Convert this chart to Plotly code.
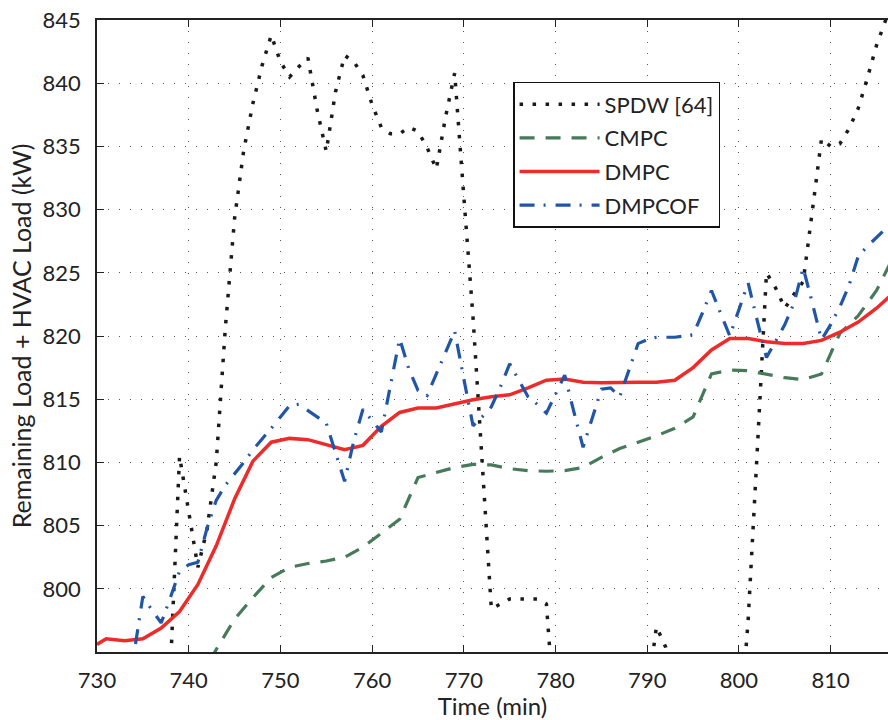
import plotly.graph_objects as go

# ---------------- data ----------------
spdw_t = list(range(737, 781)) + [790, 791, 792, 793, 800] + list(range(801, 818))
spdw_v = [770.0, 793.5, 810.5, 806.1, 801.7, 804.7, 810.0, 820.7, 829.3, 834.7,
          838.4, 841.4, 843.8, 841.7, 840.5, 841.3, 842.0, 837.9, 834.6, 839.3,
          842.2, 841.7, 840.6, 838.3, 836.5, 836.0, 836.0, 836.5, 836.2, 834.9,
          833.2, 837.3, 840.8, 831.0, 821.5, 810.0, 798.4, 798.8, 799.2, 799.2,
          799.2, 799.2, 798.8, 789.0,
          791.5, 797.0, 795.4, 792.5, 788.0,
          797.5, 811.0, 825.0, 823.8, 822.2, 823.3, 824.3, 829.9, 835.6, 835.0,
          835.2, 836.4, 838.0, 840.4, 843.0, 845.0, 847.0]

cmpc_t = list(range(741, 818, 2))
cmpc_v = [792.5, 795.2, 797.6, 799.3, 800.9, 801.7, 802.0, 802.2, 802.5, 803.3,
          804.4, 805.5, 808.8, 809.2, 809.6, 809.85, 809.8, 809.5, 809.35, 809.3,
          809.35, 809.6, 810.4, 811.1, 811.6, 812.1, 812.7, 813.6, 817.0, 817.3,
          817.25, 816.95, 816.7, 816.55, 817.0, 820.2, 821.6, 823.6, 826.5]

dmpc_t = [730] + list(range(731, 818, 2))
dmpc_v = [795.6, 796.05, 795.9, 796.05, 796.9, 798.2, 800.35, 803.4, 807.1, 810.1,
          811.6, 811.9, 811.8, 811.4, 811.0, 811.35, 812.85, 813.95, 814.3, 814.3,
          814.65, 814.95, 815.2, 815.35, 815.9, 816.5, 816.6, 816.35, 816.3, 816.35,
          816.35, 816.35, 816.5, 817.5, 818.9, 819.8, 819.8, 819.55, 819.4, 819.4,
          819.65, 820.3, 821.1, 822.2, 823.5]

dmpcof_t = list(range(733, 818))
dmpcof_v = [790.0, 794.8, 799.4, 798.3, 797.3, 799.3, 801.4, 801.9, 802.1, 804.8,
            807.0, 808.2, 809.1, 810.0, 811.0, 811.9, 812.7, 813.6, 814.5, 814.6,
            814.1, 813.6, 813.1, 810.8, 808.5, 811.7, 814.2, 813.3, 812.4, 816.1,
            819.8, 817.4, 815.7, 815.3, 817.0, 818.7, 820.4, 816.6, 812.9, 813.6,
            814.4, 816.0, 817.8, 816.5, 815.2, 814.6, 813.9, 815.4, 816.9, 814.0,
            811.2, 813.5, 815.8, 815.9, 815.2, 817.3, 819.4, 819.7, 819.9, 819.9,
            819.9, 820.0, 820.1, 821.8, 823.6, 821.8, 820.0, 822.1, 824.2, 821.2,
            818.3, 819.6, 820.9, 822.6, 825.4, 822.6, 819.7, 820.9, 822.3, 824.0,
            826.3, 827.1, 827.8, 828.5, 829.2]

x_ticks = list(range(730, 811, 10))
y_ticks = list(range(800, 846, 5))

FONT = "Lato"

fig = go.Figure()
fig.add_trace(go.Scatter(x=spdw_t, y=spdw_v, mode="lines", name="SPDW [64]", legendgroup="a",
                         line=dict(color="#1a1a1a", width=3.5, dash="3.5px,9.5px")))
fig.add_trace(go.Scatter(x=cmpc_t, y=cmpc_v, mode="lines", name="CMPC", legendgroup="b",
                         line=dict(color="#467a5a", width=3.2, dash="15px,11px")))
fig.add_trace(go.Scatter(x=dmpc_t, y=dmpc_v, mode="lines", name="DMPC", legendgroup="c",
                         line=dict(color="#ee2b2b", width=3.5)))
fig.add_trace(go.Scatter(x=dmpcof_t, y=dmpcof_v, mode="lines", name="DMPCOF", legendgroup="d",
                         line=dict(color="#2155a8", width=3.2, dash="15px,9px,2px,10px")))

axis_common = dict(
    showline=True, linecolor="#222", linewidth=1.5,
    ticks="inside", ticklen=7, tickwidth=1, tickcolor="#222",
    showgrid=True, gridcolor="#555", gridwidth=1, griddash="1px,10px",
    zeroline=False,
    tickfont=dict(family=FONT, size=22, color="#222"),
)

fig.update_layout(
    width=888, height=720, autosize=False,
    margin=dict(l=97, r=0, t=20, b=68),
    paper_bgcolor="white", plot_bgcolor="white",
    font=dict(family=FONT, color="#222"),
    showlegend=True,
    legend=dict(
        x=0.526, y=0.902, xanchor="left", yanchor="top",
        bgcolor="white", bordercolor="#111", borderwidth=1.5,
        font=dict(family=FONT, size=22, color="#222"),
        traceorder="grouped", tracegroupgap=2,
        itemwidth=80,
    ),
    xaxis=dict(range=[730, 816.25], tickvals=x_ticks, mirror="ticks",
               title=dict(text="Time (min)", font=dict(family=FONT, size=24), standoff=4),
               ticklabelstandoff=8, **axis_common),
    yaxis=dict(range=[795, 845], tickvals=y_ticks, mirror=False,
               title=dict(text="Remaining Load + HVAC Load (kW)", font=dict(family=FONT, size=25), standoff=4),
               ticklabelstandoff=10, **axis_common),
)

fig.write_html("out.html", config={"displayModeBar": False},
               post_script="document.body.style.margin='0';")
